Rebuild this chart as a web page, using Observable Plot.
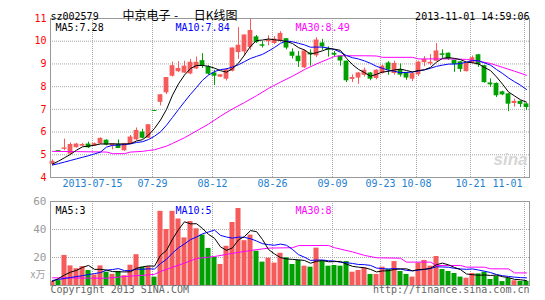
<!DOCTYPE html>
<html><head><meta charset="utf-8">
<script src="https://cdn.jsdelivr.net/npm/d3@7"></script>
<script src="https://cdn.jsdelivr.net/npm/@observablehq/plot@0.6"></script>
<style>
body{margin:0;background:#fff;}
#wrap{position:relative;width:545px;height:300px;overflow:hidden;background:#fff;}
#wrap svg{position:absolute;left:0;}
</style></head><body><div id="wrap"></div>
<script>
// ---- data ----
const open = [4.60,5.16,5.26,5.05,5.33,5.40,5.45,5.40,5.50,5.62, 5.42,5.44,5.20,5.48,5.68,5.98,5.75,6.93,7.33,7.75,
  8.48,8.68,8.62,8.58,8.80,9.12,8.85,8.58,8.44,8.35, 8.70,9.52,9.55,9.75,10.17,9.82,10.00,9.92,10.02,10.09,
  9.50,9.32,8.85,9.46,9.38,9.90,9.65,9.44,9.32,9.10, 8.34,8.40,8.52,8.58,8.38,8.60,9.02,8.60,8.73,8.58,
  8.35,8.55,9.08,9.02,9.14,9.42,9.45,9.14,9.07,8.68, 9.05,9.38,8.90,8.14,8.12,7.75,7.66,7.28,7.33,7.22];
const high = [4.78,5.16,5.69,5.52,5.50,5.50,5.56,5.52,5.75,5.66, 5.48,5.65,5.50,5.85,6.18,6.12,6.33,6.93,7.65,8.38,
  9.08,9.10,9.12,9.20,9.30,9.45,8.92,8.72,8.52,8.80, 9.70,10.60,10.28,10.98,10.25,9.98,10.24,10.20,10.42,10.12,
  9.66,9.55,9.62,9.62,10.15,10.08,9.75,9.55,9.35,9.12, 8.52,8.62,8.82,8.62,8.74,8.95,9.10,9.12,9.00,8.62,
  8.60,9.12,9.32,9.41,9.90,9.62,9.48,9.16,9.10,9.02, 9.35,9.42,8.94,8.34,8.16,7.80,7.70,7.45,7.37,7.24];
const low = [4.52,5.16,5.18,4.98,5.30,5.35,5.28,5.36,5.46,5.40, 5.22,5.27,5.15,5.45,5.62,5.70,5.72,6.93,7.15,7.65,
  8.42,8.62,8.58,8.52,8.75,8.80,8.50,8.05,8.40,8.25, 8.65,9.20,9.35,9.60,9.90,9.70,9.80,9.85,9.95,9.62,
  9.22,8.85,8.80,8.90,9.28,9.60,9.30,9.30,8.90,8.18, 8.18,8.10,8.42,8.26,8.30,8.55,8.50,8.50,8.42,8.28,
  8.22,8.45,8.88,8.92,9.10,9.25,9.15,8.63,8.63,8.65, 9.00,8.85,8.15,7.97,7.52,7.60,6.90,7.10,7.08,6.95];
const close = [4.69,5.16,5.28,5.43,5.45,5.43,5.33,5.47,5.70,5.45, 5.46,5.30,5.47,5.76,6.05,5.75,6.30,6.93,7.62,8.38,
  8.90,8.78,8.88,9.05,9.05,8.92,8.57,8.48,8.50,8.72, 9.68,9.80,10.25,10.45,9.96,9.80,10.03,10.07,10.32,9.72,
  9.36,9.12,9.55,9.42,10.03,9.77,9.62,9.41,9.15,8.28, 8.38,8.58,8.70,8.35,8.70,8.88,8.75,9.00,8.53,8.40,
  8.55,9.06,9.17,9.05,9.55,9.40,9.22,9.00,8.78,9.00, 9.25,8.98,8.20,8.10,7.62,7.66,7.25,7.33,7.24,7.10];
const volume = [3,3.5,21.5,14,12,13.5,10.7,7.5,14,9.5, 8,10,7,14.5,22,13,13.5,6,53,40,
  53,47.5,34,45.7,40.5,36,26.5,20,15,28, 45,55,32,36,24.5,16.7,19.5,16,23,19.8,
  15,17.9,13.8,13.1,26.7,17.4,13.8,14.3,13.8,17.1, 9.5,10.7,12.4,7.9,7.9,13.1,11.4,17.1,10,7.9,
  6,16,17.9,13.8,20.7,11.4,10,8.6,6,5.2, 8.6,8.3,9.5,4.3,6.5,2.8,5,3.4,3,3];

// moving-average lines: first points (before a full window exists)
const ma5Head = [4.59,4.72,4.87,5.02];
const ma10Head = [4.55,4.61,4.68,4.75,4.82,4.89,4.96,5.04,5.12];
const volMa5Head = [2.9,5,7.5,9.5];
const volMa10Head = [3.6,4.3,5.0,5.7,6.4,7.0,7.8,8.5,9.2];
// 30-day averages
const ma30Idx = [0,4,9,10,12,13,15,16,17,18,19,20,22,24,26,28,30,32,34,36,38,40,42,44,46,47,48,52,54,55,60,61,66,69,71,73,75,77,79];
const ma30Val = [5.15,5.14,5.12,5.05,5.05,5.12,5.15,5.19,5.22,5.30,5.38,5.50,5.75,6.05,6.35,6.70,7.02,7.30,7.60,7.92,8.20,8.46,8.75,9.00,9.22,9.33,9.36,9.36,9.35,9.29,9.29,9.22,9.22,9.20,9.12,9.02,8.85,8.68,8.50];
const volMa30Idx = [0,9,12,16,17,18,20,22,24,27,30,33,36,40,41,46,47,50,52,54,58,59,63,64,68,69,72,73,76,77,79];
const volMa30Val = [5.5,5.2,6.4,7.6,8,10,13,16,19.3,20.7,23,25,26.7,27,28.5,28.6,27,24,21.5,19.8,19.5,16.7,16.7,14.3,14.3,13.1,13.1,11.9,11.9,9.0,9.0];

const dateTickIdx = [7,17,27,37,47,55,61,70,79];
const dateTickLabels = ["2013-07-15","07-29","08-12","08-26","09-09","09-23","10-08","10-21","11-01"];
const priceTicks = [4,5,6,7,8,9,10,11];
const volTicks = [20,40,60];
const priceMaLabels = ["MA5:7.28","MA10:7.84","MA30:8.49"];
const volMaLabels = ["MA5:3","MA10:5","MA30:8"];
const code = "sz002579";
const titleName = "中京电子";
const titleDash = "-";
const titleKind = "日K线图";
const stamp = "2013-11-01 14:59:06";
const unitLabel = "x万";
const copyright = "Copyright 2013 SINA.COM";
const site = "http://finance.sina.com.cn";
const watermark = "sina";

// ---- styles ----
const RED = "#f65b5b", GREEN = "#00a000", BLUE_T = "#1e80d0", GRID = "#a8a8a8", BORDER = "#999";
const MA_COLORS = ["#000000","#0000ff","#ff00ff"];
const MONO = "DejaVu Sans Mono", CJK = "Noto Sans CJK SC";

function movingAvg(vals, k, head) {
  return vals.map((_, i) => i >= k - 1 ? d3.mean(vals.slice(i - k + 1, i + 1)) : head[i]);
}
const ma5 = movingAvg(close, 5, ma5Head);
const ma10 = movingAvg(close, 10, ma10Head);
const vma5 = movingAvg(volume, 5, volMa5Head);
const vma10 = movingAvg(volume, 10, volMa10Head);

const rows = close.map((c, i) => ({i, o: open[i], h: high[i], l: low[i], c, v: volume[i], up: c > open[i]}));
const col = d => d.up ? RED : GREEN;
const ticks = dateTickIdx.map((i, k) => ({i, label: dateTickLabels[k], last: k === dateTickIdx.length - 1}));
const ma30Rows = ma30Idx.map((i, k) => ({i, y: ma30Val[k]}));
const vma30Rows = volMa30Idx.map((i, k) => ({i, y: volMa30Val[k]}));

const xOpt = {domain: [-1/3, 79.5], axis: null};
const common = {width: 545, marginLeft: 50, marginRight: 16, color: {type: "identity"}, style: {background: "transparent"}};
const txt = (extra) => Object.assign({fontFamily: MONO, fontSize: 10}, extra);

const price = Plot.plot({
  ...common, height: 195, marginTop: 18, marginBottom: 18,
  x: xOpt, y: {domain: [4, 11], axis: null},
  marks: [
    Plot.ruleY([5,6,7,8,9,10], {stroke: GRID, strokeDasharray: "1,1"}),
    Plot.ruleX(dateTickIdx, {x: d => d - 1/3, stroke: GRID, strokeDasharray: "1,1"}),
    Plot.ruleX(rows, {x: "i", y1: "l", y2: "h", stroke: col}),
    Plot.rect(rows, {x1: d => d.i - 0.4, x2: d => d.i + 0.4, y1: "o", y2: "c", fill: col, insetTop: -0.5, insetBottom: -0.5}),
    Plot.line(ma30Rows, {x: "i", y: "y", stroke: MA_COLORS[2], strokeWidth: 1}),
    Plot.line(rows, {x: "i", y: d => ma10[d.i], stroke: MA_COLORS[1], strokeWidth: 1}),
    Plot.line(rows, {x: "i", y: d => ma5[d.i], stroke: MA_COLORS[0], strokeWidth: 1}),
    Plot.frame({stroke: BORDER}),
    Plot.text(priceTicks, txt({y: d => d, text: d => String(d), frameAnchor: "left", textAnchor: "end", dx: -4, fill: "#ff0000"})),
    Plot.text([priceMaLabels[0]], txt({frameAnchor: "top-left", textAnchor: "start", dx: 5, dy: 5.5, fill: MA_COLORS[0]})),
    Plot.text([priceMaLabels[1]], txt({frameAnchor: "top-left", textAnchor: "start", dx: 125, dy: 5.5, fill: MA_COLORS[1]})),
    Plot.text([priceMaLabels[2]], txt({frameAnchor: "top-left", textAnchor: "start", dx: 245, dy: 5.5, fill: MA_COLORS[2]})),
    Plot.text(ticks.filter(d => !d.last), txt({x: d => d.i - 1/3, text: "label", frameAnchor: "bottom", dy: 9.8, fill: BLUE_T})),
    Plot.text(ticks.filter(d => d.last), txt({x: d => d.i - 1/3, text: "label", frameAnchor: "bottom", dy: 9.8, dx: -2, textAnchor: "end", fill: BLUE_T})),
    Plot.text([code], txt({frameAnchor: "top-left", textAnchor: "start", dy: -6, fill: "#000"})),
    Plot.text([titleName], {frameAnchor: "top-left", textAnchor: "start", dx: 72, dy: -7.3, fontFamily: CJK, fontSize: 12, fill: "#000"}),
    Plot.text([titleDash], {frameAnchor: "top-left", textAnchor: "middle", dx: 125.5, dy: -7.3, fontFamily: CJK, fontSize: 12, fill: "#000"}),
    Plot.text([titleKind], {frameAnchor: "top-left", textAnchor: "start", dx: 143.3, dy: -7.3, fontFamily: CJK, fontSize: 12, fill: "#000"}),
    Plot.text([stamp], txt({frameAnchor: "top-right", textAnchor: "end", dy: -6, fill: "#000"})),
    Plot.text([watermark], {frameAnchor: "bottom-right", textAnchor: "middle", dx: -19, dy: -13, fontFamily: "Liberation Sans", fontSize: 17, fontStyle: "italic", fontWeight: "bold", fill: "#d6d6d6"})
  ]
});

const vol = Plot.plot({
  ...common, height: 105, marginTop: 6, marginBottom: 15,
  x: xOpt, y: {domain: [0, 60], axis: null},
  marks: [
    Plot.ruleY([20, 40], {stroke: GRID, strokeDasharray: "1,1"}),
    Plot.ruleX(dateTickIdx, {x: d => d - 1/3, stroke: GRID, strokeDasharray: "1,1"}),
    Plot.rect(rows, {x1: d => d.i - 0.42, x2: d => d.i + 0.42, y1: 0, y2: "v", fill: col, clip: true}),
    Plot.line(vma30Rows, {x: "i", y: "y", stroke: MA_COLORS[2], strokeWidth: 1}),
    Plot.line(rows, {x: "i", y: d => vma10[d.i], stroke: MA_COLORS[1], strokeWidth: 1}),
    Plot.line(rows, {x: "i", y: d => vma5[d.i], stroke: MA_COLORS[0], strokeWidth: 1}),
    Plot.frame({stroke: BORDER}),
    Plot.text(volTicks, txt({y: d => d, text: d => String(d), frameAnchor: "left", textAnchor: "end", dx: -4, fill: "#9a9a9a", fontSize: 11})),
    Plot.text([unitLabel], {frameAnchor: "bottom-left", textAnchor: "end", dx: -5, dy: -8, fontFamily: CJK, fontSize: 10, fill: "#a0a0a0"}),
    Plot.text([volMaLabels[0]], txt({frameAnchor: "top-left", textAnchor: "start", dx: 5, dy: 5.8, fill: MA_COLORS[0]})),
    Plot.text([volMaLabels[1]], txt({frameAnchor: "top-left", textAnchor: "start", dx: 125, dy: 5.8, fill: MA_COLORS[1]})),
    Plot.text([volMaLabels[2]], txt({frameAnchor: "top-left", textAnchor: "start", dx: 245, dy: 5.8, fill: MA_COLORS[2]})),
    Plot.text([copyright], txt({frameAnchor: "bottom-left", textAnchor: "start", dy: 7.3, fill: "#666"})),
    Plot.text([site], txt({frameAnchor: "bottom-right", textAnchor: "end", dy: 7.3, fill: "#666"}))
  ]
});

const wrap = document.getElementById("wrap");
price.style.top = "0px";
vol.style.top = "195px";
wrap.appendChild(price);
wrap.appendChild(vol);
</script>
</body></html>
